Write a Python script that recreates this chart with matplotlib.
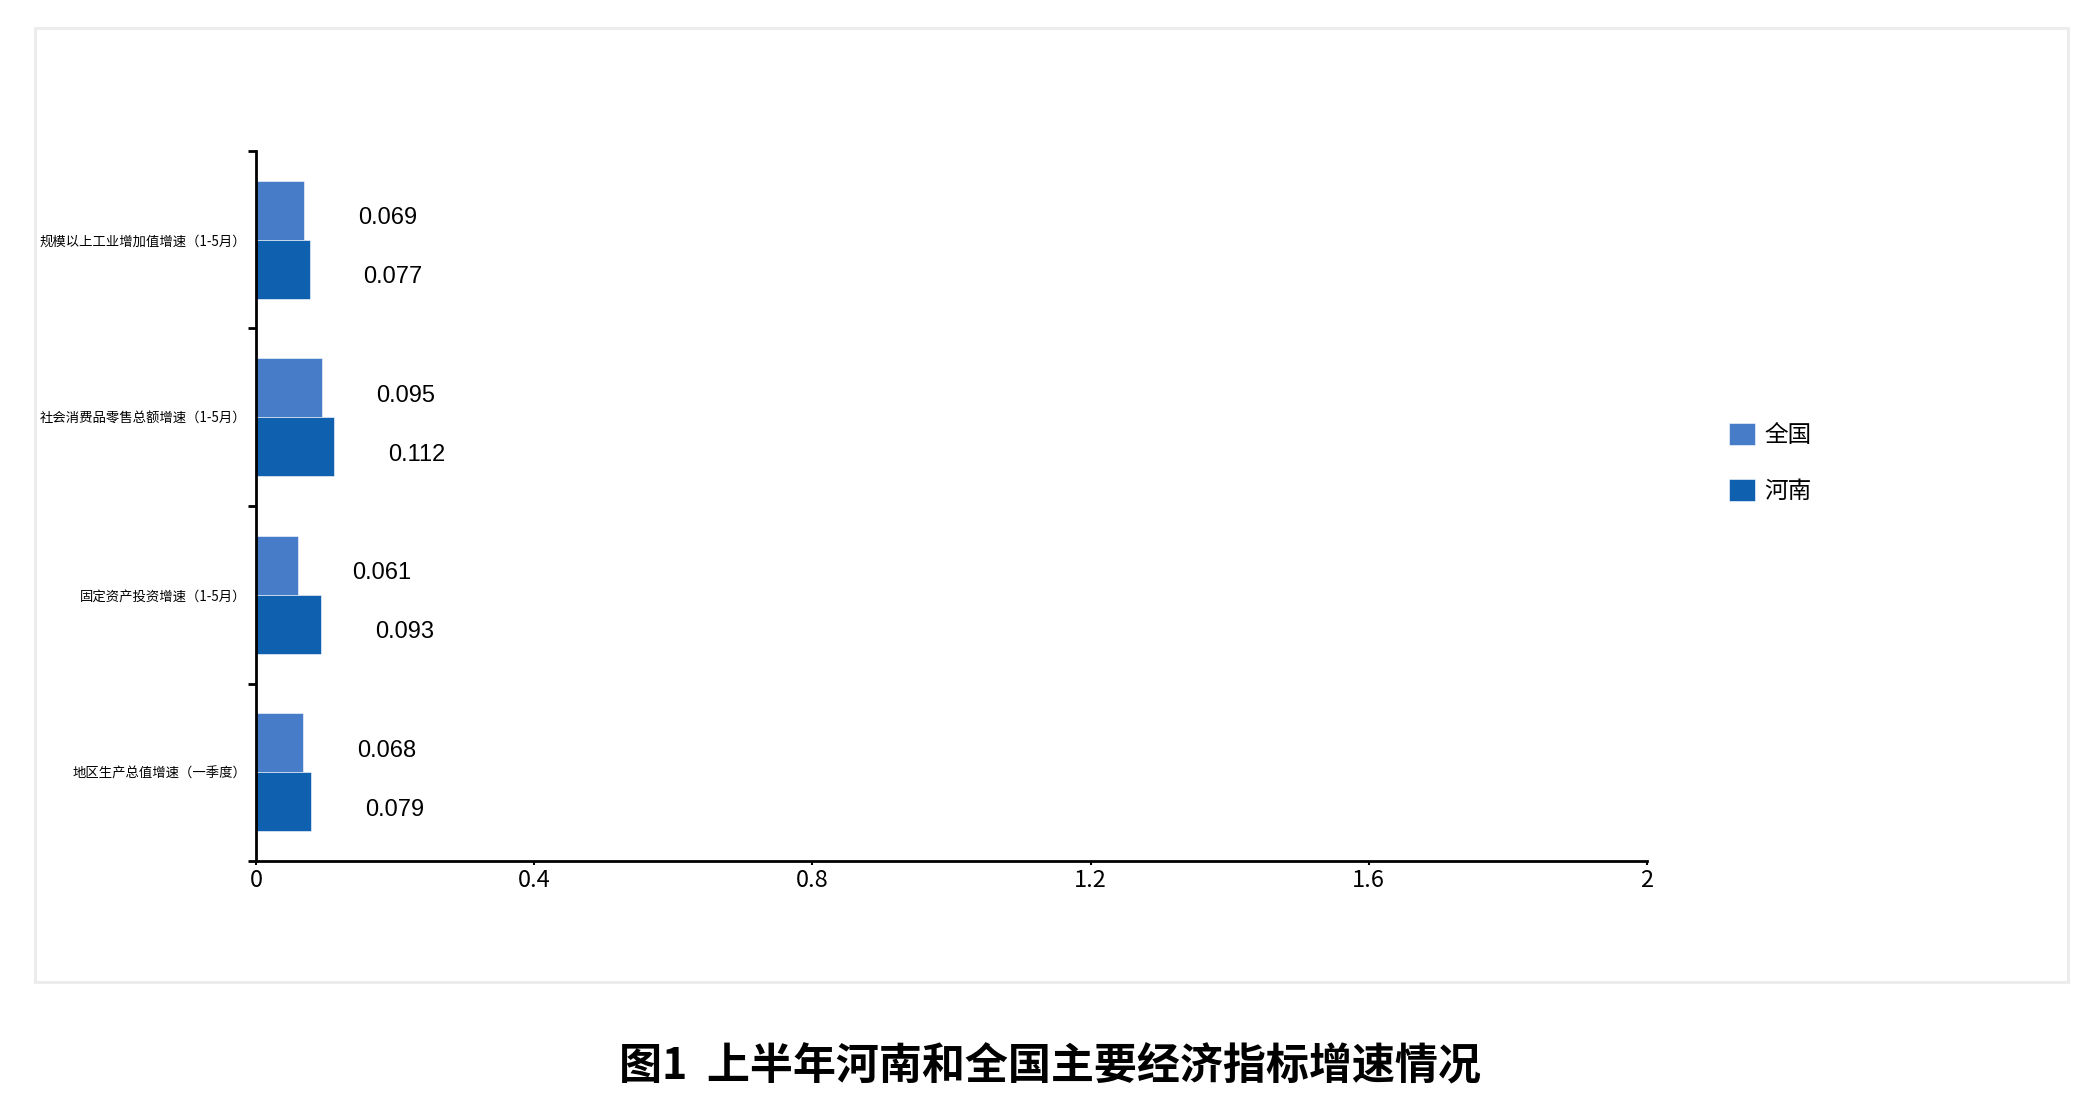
import matplotlib.pyplot as plt
from matplotlib.patches import Rectangle
import numpy as np

plt.rcParams['font.family'] = ['Noto Sans CJK SC', 'DejaVu Sans']

# categories top -> bottom as shown in the chart
categories = ["规模以上工业增加值增速（1-5月）", "社会消费品零售总额增速（1-5月）",
              "固定资产投资增速（1-5月）", "地区生产总值增速（一季度）"]
quanguo = [0.069, 0.095, 0.061, 0.068]
henan = [0.077, 0.112, 0.093, 0.079]
series_names = ["全国", "河南"]
xticks = [0, 0.4, 0.8, 1.2, 1.6, 2]
title = "图1  上半年河南和全国主要经济指标增速情况"

c_qg = "#477cc8"
c_hn = "#1060b0"

fig = plt.figure(figsize=(20.99, 11.10), dpi=100)

# light frame round the chart area
fig.patches.append(Rectangle((35 / 2099, 1 - 982 / 1110), (2068 - 35) / 2099, (982 - 28) / 1110,
                             transform=fig.transFigure, fill=False, edgecolor="#ececec", lw=2.2))

ax = fig.add_axes([256 / 2099, 249 / 1110, (1647 - 256) / 2099, (861 - 151) / 1110])

n = len(categories)
ypos = np.arange(n)[::-1]  # first category on top
h = 1 / 3
b1 = ax.barh(ypos + h / 2, quanguo, height=h, color=c_qg, edgecolor="white", lw=0.4, label=series_names[0])
b2 = ax.barh(ypos - h / 2, henan, height=h, color=c_hn, edgecolor="white", lw=0.4, label=series_names[1])

for bars, vals in ((b1, quanguo), (b2, henan)):
    for bar, v in zip(bars, vals):
        ax.annotate(f"{v:g}", (v, bar.get_y() + bar.get_height() / 2), xytext=(54, -8),
                    textcoords="offset pixels", ha="left", va="center",
                    fontsize=17, family=["Liberation Sans", "DejaVu Sans"])

ax.set_xlim(0, 2)
ax.set_ylim(-0.5, n - 0.5)
ax.set_xticks(xticks)
ax.set_xticklabels([f"{t:g}" for t in xticks], fontsize=17)
ax.tick_params(axis="x", length=3, width=1.5, pad=3)

ax.set_yticks(ypos)
ax.set_yticklabels(categories, fontsize=9.6)
ax.set_yticks(np.arange(n + 1) - 0.5, minor=True)
ax.tick_params(axis="y", which="major", length=0, pad=7)
ax.tick_params(axis="y", which="minor", length=6, width=2)

for s in ("top", "right"):
    ax.spines[s].set_visible(False)
for s in ("left", "bottom"):
    ax.spines[s].set_linewidth(2)

fig.legend(handles=[b1, b2], loc="center left", bbox_to_anchor=(1729 / 2099, 0.583),
           frameon=False, fontsize=17, handlelength=1.1, handleheight=1.1,
           handletextpad=0.4, labelspacing=1.35, borderpad=0, borderaxespad=0)

fig.text(0.5, 1 - 1066 / 1110, title, ha="center", va="center", fontsize=31, fontweight="heavy")

fig.savefig("out.png", dpi=100, facecolor="white")
